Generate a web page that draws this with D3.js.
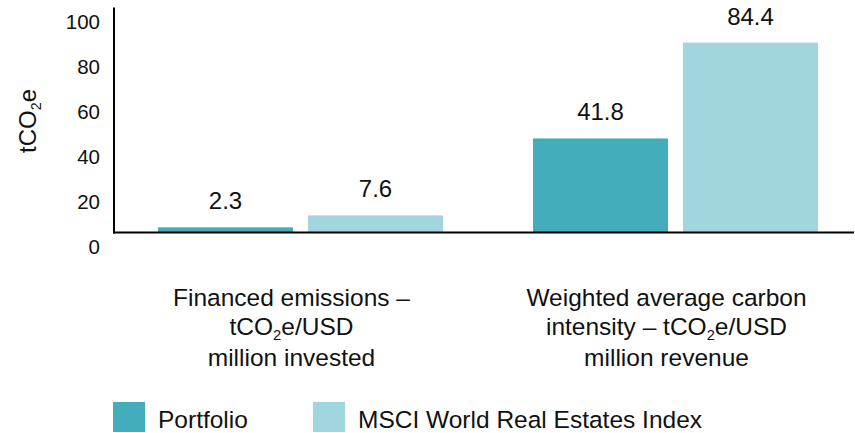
<!DOCTYPE html>
<html>
<head>
<meta charset="utf-8">
<script src="https://cdn.jsdelivr.net/npm/d3@7"></script>
<style>
  html, body { margin: 0; padding: 0; background: #fff; }
  svg { display: block; font-family: "Liberation Sans", Arial, Helvetica, sans-serif; }
</style>
</head>
<body>
<svg id="chart" width="855" height="433"></svg>
<script>
// ---- data ----
const categories = ["Financed emissions", "Weighted average carbon intensity"];
const series = ["Portfolio", "MSCI World Real Estates Index"];
const portfolioValues = [2.3, 41.8];
const indexValues = [7.6, 84.4];
const yTicks = [0, 20, 40, 60, 80, 100];
// category labels: lines of [text, isSubscript] segments
const categoryLabels = [
  [[["Financed emissions –", false]], [["tCO", false], ["2", true], ["e/USD", false]], [["million invested", false]]],
  [[["Weighted average carbon", false]], [["intensity – tCO", false], ["2", true], ["e/USD", false]], [["million revenue", false]]]
];
const yTitle = [["tCO", false], ["2", true], ["e", false]];
const colors = ["#44adbc", "#a2d6df"];

// ---- layout ----
const svg = d3.select("#chart");

const y = d3.scaleLinear().domain([0, 100]).range([232.5, 7.5]);
const x0 = d3.scaleBand().domain(categories).range([114, 862]).paddingInner(0.24).paddingOuter(0.1173);
const x1 = d3.scaleBand().domain(series).range([0, x0.bandwidth()]).paddingInner(0.1).paddingOuter(0);
const color = d3.scaleOrdinal().domain(series).range(colors);

const rows = categories.map((c, i) => ({
  category: c,
  values: [
    { key: series[0], value: portfolioValues[i] },
    { key: series[1], value: indexValues[i] }
  ]
}));

// bars
const groups = svg.append("g").selectAll("g").data(rows).join("g")
  .attr("transform", d => `translate(${x0(d.category)},0)`);

groups.selectAll("rect").data(d => d.values).join("rect")
  .attr("x", d => x1(d.key))
  .attr("y", d => y(d.value))
  .attr("width", x1.bandwidth())
  .attr("height", d => y(0) - y(d.value))
  .attr("fill", d => color(d.key));

groups.selectAll("text.val").data(d => d.values).join("text")
  .attr("class", "val")
  .attr("x", d => x1(d.key) + x1.bandwidth() / 2)
  .attr("y", d => y(d.value) - 18)
  .attr("text-anchor", "middle")
  .attr("font-size", 24)
  .attr("fill", "#111")
  .text(d => d.value.toFixed(1));

// axes
const yAxis = d3.axisLeft(y).tickValues(yTicks).tickSize(0).tickPadding(14);
const gy = svg.append("g").attr("transform", "translate(114,0)").call(yAxis);
gy.select(".domain").remove();
gy.selectAll(".tick text")
  .attr("font-size", 20.5)
  .attr("font-family", "Liberation Sans, Arial, sans-serif")
  .attr("fill", "#111")
  .attr("dy", "21px")
  .attr("y", 0);

svg.append("line")
  .attr("x1", 114).attr("x2", 114)
  .attr("y1", y(100)).attr("y2", y(0) + 1)
  .attr("stroke", "#000").attr("stroke-width", 2);
svg.append("line")
  .attr("x1", 113).attr("x2", 854)
  .attr("y1", y(0)).attr("y2", y(0))
  .attr("stroke", "#000").attr("stroke-width", 2);

// helper to write segments with subscripts
function writeSegments(textSel, segs, size) {
  let shift = 0;
  segs.forEach(([t, sub]) => {
    const ts = textSel.append("tspan").text(t);
    if (sub) {
      ts.attr("font-size", size * 0.6).attr("dy", size * 0.22);
      shift = size * 0.22;
    } else {
      ts.attr("font-size", size).attr("dy", shift ? -shift : 0);
      shift = 0;
    }
  });
}

// y title
const yt = svg.append("text")
  .attr("transform", "translate(36,121) rotate(-90)")
  .attr("text-anchor", "middle")
  .attr("fill", "#111");
writeSegments(yt, yTitle, 24);

// category labels
const lineBaselines = [305.5, 334.5, 365.5];
categoryLabels.forEach((lines, ci) => {
  const cx = x0(categories[ci]) + x0.bandwidth() / 2 - 9;
  lines.forEach((segs, li) => {
    const t = svg.append("text")
      .attr("x", cx)
      .attr("y", lineBaselines[li])
      .attr("text-anchor", "middle")
      .attr("fill", "#111");
    writeSegments(t, segs, 24.5);
  });
});

// legend
const legendX = [113, 313];
const lg = svg.append("g").selectAll("g").data(series).join("g")
  .attr("transform", (d, i) => `translate(${legendX[i]},402)`);
lg.append("rect").attr("width", 32).attr("height", 30).attr("fill", d => color(d));
lg.append("text").attr("x", 45).attr("y", 26).attr("font-size", 24.5).attr("fill", "#111").text(d => d);
</script>
</body>
</html>
